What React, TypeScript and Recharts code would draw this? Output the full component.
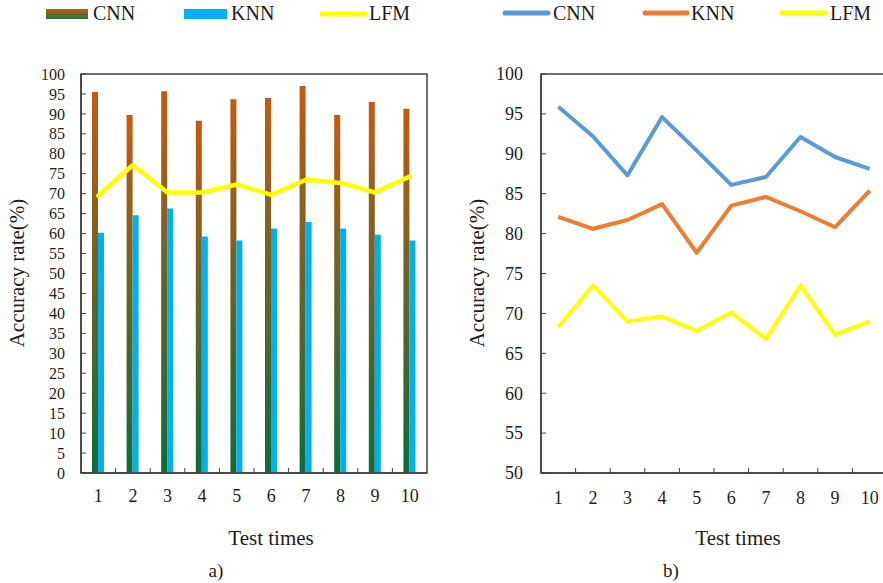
import { ComposedChart, Bar, Line, XAxis, YAxis, ReferenceLine, ReferenceArea } from 'recharts';

// test runs 1..10 shared by both panels
const testTimes = [1, 2, 3, 4, 5, 6, 7, 8, 9, 10];

// panel a) values
const cnnBarValues = [95.5, 89.7, 95.7, 88.3, 93.7, 94.0, 97.0, 89.7, 93.0, 91.3];
const knnBarValues = [60.2, 64.6, 66.3, 59.3, 58.3, 61.3, 62.9, 61.3, 59.7, 58.3];
const lfmBarPanelValues = [69.5, 77.2, 70.3, 70.3, 72.3, 69.7, 73.5, 72.7, 70.3, 74.3];
const leftYTicks = [0, 5, 10, 15, 20, 25, 30, 35, 40, 45, 50, 55, 60, 65, 70, 75, 80, 85, 90, 95, 100];

// panel b) values
const cnnLineValues = [95.9, 92.2, 87.3, 94.6, 90.4, 86.1, 87.1, 92.1, 89.6, 88.1];
const knnLineValues = [82.1, 80.6, 81.7, 83.7, 77.6, 83.5, 84.6, 82.8, 80.8, 85.4];
const lfmLineValues = [68.3, 73.5, 69.0, 69.6, 67.8, 70.1, 66.8, 73.5, 67.3, 69.0];
const rightYTicks = [50, 55, 60, 65, 70, 75, 80, 85, 90, 95, 100];

const FONT = '"Liberation Serif", "Times New Roman", serif';
const AXIS = '#404040';
const TEXT = '#1e1e1e';

const barData = testTimes.map((t, i) => ({
  t,
  cnn: cnnBarValues[i],
  knn: knnBarValues[i],
  lfm: lfmBarPanelValues[i],
}));

const lineData = testTimes.map((t, i) => ({
  t,
  cnn: cnnLineValues[i],
  knn: knnLineValues[i],
  lfm: lfmLineValues[i],
}));

// small tick marks sit between the categories
const boundaries = testTimes.slice(0, -1).map((t) => t + 0.5);
const xDomain: [number, number] = [0.5, 10.5];

// serif tick labels (recharts otherwise picks up its own font)
function makeYTick(size: number) {
  return (props: any) => (
    <text x={props.x} y={props.y} dy="0.35em" textAnchor="end" fontFamily={FONT} fontSize={size} fill={TEXT}>
      {props.payload.value}
    </text>
  );
}

function makeXTick(size: number) {
  return (props: any) => (
    <text x={props.x} y={props.y} dy="0.71em" textAnchor="middle" fontFamily={FONT} fontSize={size} fill={TEXT}>
      {props.payload.value}
    </text>
  );
}

function AbsText({ x, y, size, children, rotate }: { x: number; y: number; size: number; children: string; rotate?: boolean }) {
  return (
    <div
      style={{
        position: 'absolute',
        left: x,
        top: y,
        transform: `translate(-50%, -50%)${rotate ? ' rotate(-90deg)' : ''}`,
        fontSize: size,
        whiteSpace: 'nowrap',
        color: TEXT,
        lineHeight: 1,
      }}
    >
      {children}
    </div>
  );
}

function Legends() {
  return (
    <svg width={883} height={30} style={{ position: 'absolute', left: 0, top: 0 }}>
      <defs>
        <linearGradient id="cnnLegendGrad" x1="0" y1="0" x2="0" y2="1">
          <stop offset="0" stopColor="#C55A11" />
          <stop offset="1" stopColor="#1B7A3E" />
        </linearGradient>
      </defs>
      <g fontFamily={FONT} fontSize={20} fill={TEXT}>
        <rect x={46} y={9} width={42} height={10} fill="url(#cnnLegendGrad)" />
        <text x={93} y={20}>CNN</text>
        <rect x={184} y={9} width={43} height={10} fill="#00B0F0" />
        <text x={231} y={20}>KNN</text>
        <line x1={322} y1={14} x2={365} y2={14} stroke="#FFFF00" strokeWidth={5} strokeLinecap="round" />
        <text x={369} y={20}>LFM</text>

        <line x1={505} y1={13} x2={548} y2={13} stroke="#5B9BD5" strokeWidth={5} strokeLinecap="round" />
        <text x={553} y={20}>CNN</text>
        <line x1={645} y1={13} x2={687} y2={13} stroke="#ED7D31" strokeWidth={5} strokeLinecap="round" />
        <text x={691} y={20}>KNN</text>
        <line x1={782} y1={13} x2={825} y2={13} stroke="#FFFF00" strokeWidth={5} strokeLinecap="round" />
        <text x={830} y={20}>LFM</text>
      </g>
    </svg>
  );
}

function BarPanel() {
  return (
    <ComposedChart
      width={440}
      height={583}
      data={barData}
      margin={{ top: 74, right: 13, bottom: 80, left: 0 }}
      barGap={0}
    >
      <defs>
        <linearGradient id="cnnGrad" x1="0" y1="0" x2="0" y2="1">
          <stop offset="0" stopColor="#C55A11" />
          <stop offset="1" stopColor="#106B36" />
        </linearGradient>
      </defs>
      <ReferenceArea x1={0.5} x2={10.5} y1={0} y2={100} fill="none" stroke={AXIS} strokeWidth={1.5} fillOpacity={0} />
      <XAxis
        type="number"
        dataKey="t"
        domain={xDomain}
        ticks={testTimes}
        interval={0}
        allowDataOverflow
        tickLine={false}
        axisLine={{ stroke: AXIS, strokeWidth: 1.5 }}
        tick={makeXTick(18)}
        tickMargin={10}
        height={30}
      />
      <YAxis
        domain={[0, 100]}
        ticks={leftYTicks}
        interval={0}
        allowDataOverflow
        width={81}
        tickSize={-5}
        tickMargin={21}
        tick={makeYTick(16)}
        tickLine={{ stroke: AXIS }}
        axisLine={{ stroke: AXIS, strokeWidth: 1.5 }}
      />
      {boundaries.map((b) => (
        <ReferenceLine key={b} segment={[{ x: b, y: 0 }, { x: b, y: 1.25 }]} stroke={AXIS} />
      ))}
      <Bar dataKey="cnn" fill="url(#cnnGrad)" barSize={6} isAnimationActive={false} />
      <Bar dataKey="knn" fill="#00B0F0" barSize={6} isAnimationActive={false} />
      <Line
        dataKey="lfm"
        stroke="#FFFF00"
        strokeWidth={4.5}
        strokeLinejoin="round"
        strokeLinecap="round"
        dot={false}
        isAnimationActive={false}
      />
    </ComposedChart>
  );
}

function LinePanel() {
  return (
    <ComposedChart
      width={456}
      height={583}
      data={lineData}
      margin={{ top: 74, right: 10, bottom: 80, left: 0 }}
    >
      <ReferenceArea x1={0.5} x2={10.5} y1={50} y2={100} fill="none" stroke={AXIS} strokeWidth={1.5} fillOpacity={0} />
      <XAxis
        type="number"
        dataKey="t"
        domain={xDomain}
        ticks={testTimes}
        interval={0}
        allowDataOverflow
        tickLine={false}
        axisLine={{ stroke: AXIS, strokeWidth: 1.5 }}
        tick={makeXTick(18)}
        tickMargin={12}
        height={30}
      />
      <YAxis
        domain={[50, 100]}
        ticks={rightYTicks}
        interval={0}
        allowDataOverflow
        width={100}
        tickSize={-5}
        tickMargin={23}
        tick={makeYTick(18)}
        tickLine={{ stroke: AXIS }}
        axisLine={{ stroke: AXIS, strokeWidth: 1.5 }}
      />
      {boundaries.map((b) => (
        <ReferenceLine key={b} segment={[{ x: b, y: 50 }, { x: b, y: 50.625 }]} stroke={AXIS} />
      ))}
      <Line dataKey="cnn" stroke="#5B9BD5" strokeWidth={4} strokeLinejoin="round" dot={false} isAnimationActive={false} />
      <Line dataKey="knn" stroke="#ED7D31" strokeWidth={4} strokeLinejoin="round" dot={false} isAnimationActive={false} />
      <Line dataKey="lfm" stroke="#FFFF00" strokeWidth={4} strokeLinejoin="round" dot={false} isAnimationActive={false} />
    </ComposedChart>
  );
}

export default function App() {
  return (
    <div
      style={{
        position: 'absolute',
        left: 0,
        top: 0,
        width: 883,
        height: 583,
        overflow: 'hidden',
        background: '#fff',
        fontFamily: FONT,
      }}
    >
      <Legends />
      <div style={{ position: 'absolute', left: 0, top: 0 }}>
        <BarPanel />
      </div>
      <div style={{ position: 'absolute', left: 441, top: 0 }}>
        <LinePanel />
      </div>
      <AbsText x={17} y={273} size={21} rotate>Accuracy rate(%)</AbsText>
      <AbsText x={477} y={273} size={21} rotate>Accuracy rate(%)</AbsText>
      <AbsText x={271} y={538} size={21}>Test times</AbsText>
      <AbsText x={738} y={538} size={21}>Test times</AbsText>
      <AbsText x={216} y={570} size={19}>a)</AbsText>
      <AbsText x={671} y={570} size={19}>b)</AbsText>
    </div>
  );
}
